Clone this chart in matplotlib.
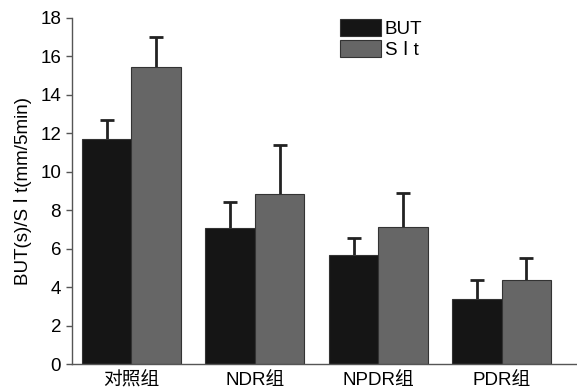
import matplotlib
matplotlib.use("Agg")
import matplotlib.pyplot as plt
import numpy as np

# 数据
groups = ["对照组", "NDR组", "NPDR组", "PDR组"]
but_mean = [11.7, 7.05, 5.65, 3.4]
but_err = [0.98, 1.4, 0.92, 0.96]
sit_mean = [15.45, 8.85, 7.15, 4.35]
sit_err = [1.55, 2.55, 1.75, 1.14]

plt.rcParams['font.family'] = ['Liberation Sans', 'DejaVu Sans', 'Noto Sans CJK SC']
plt.rcParams['font.size'] = 13.5

fig = plt.figure(figsize=(5.77, 3.92), dpi=100)
ax = fig.add_axes([0.125, 0.0714, 0.875, 0.8827])

x = np.arange(len(groups))
w = 0.4


def upper_err(xs, means, errs):
    # 只画向上的误差线
    tops = np.array(means) + np.array(errs)
    ax.vlines(xs, means, tops, colors='#222222', linewidth=2, zorder=1)
    ax.plot(xs, tops, linestyle='none', marker='_', markersize=10,
            markeredgewidth=2, color='#222222', zorder=1)


upper_err(x - w / 2, but_mean, but_err)
upper_err(x + w / 2, sit_mean, sit_err)
ax.bar(x - w / 2, but_mean, w, color='#151515', edgecolor='#333333', linewidth=0.8,
       label='BUT', zorder=2)
ax.bar(x + w / 2, sit_mean, w, color='#666666', edgecolor='#333333', linewidth=0.8,
       label='S Ⅰ t', zorder=2)

ax.set_xlim(-0.48, 3.61)
ax.set_ylim(0, 18)
ax.set_yticks(range(0, 19, 2))
ax.set_xticks(x)
ax.set_xticklabels(groups)
ax.tick_params(axis='x', length=0, pad=6)
ax.tick_params(axis='y', direction='out', length=4, width=1, color='#555555', pad=4)
ax.set_ylabel('BUT(s)/S Ⅰ t(mm/5min)', labelpad=6)

for s in ['top', 'right']:
    ax.spines[s].set_visible(False)
for s in ['left', 'bottom']:
    ax.spines[s].set_color('#555555')
    ax.spines[s].set_linewidth(1)

ax.legend(loc='upper left', bbox_to_anchor=(340 / 577, 1 - 19 / 392),
          bbox_transform=fig.transFigure, frameon=False, borderpad=0,
          borderaxespad=0, handlelength=2.2, handleheight=1.05,
          handletextpad=0.2, labelspacing=0.1)

fig.savefig('out.png', dpi=100)
